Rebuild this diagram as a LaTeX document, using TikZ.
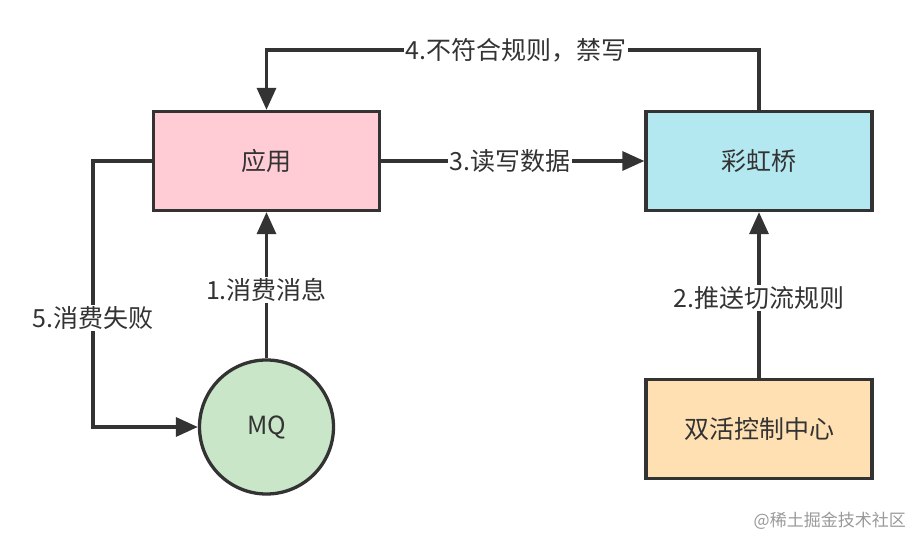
\documentclass[tikz,border=0pt]{standalone}
\usepackage{fontspec}
\setmainfont{Noto Sans CJK SC}
\usetikzlibrary{arrows.meta}
\definecolor{edge}{HTML}{333333}
\definecolor{appfill}{HTML}{FFCCD5}
\definecolor{bridgefill}{HTML}{B3E8F0}
\definecolor{mqfill}{HTML}{C9E6C9}
\definecolor{ctrlfill}{HTML}{FFE0B3}
\begin{document}
\begin{tikzpicture}[x=1pt,y=-1pt,
  txt/.style={font=\fontsize{25}{29}\selectfont,text=edge},
  boxnode/.style={draw=edge,line width=3.3pt,minimum width=226pt,minimum height=99pt,inner sep=0pt,txt},
  conn/.style={draw=edge,line width=3.3pt,-{Triangle[length=22pt,width=19pt]}},
  lbl/.style={fill=white,inner sep=1.5pt,txt}]
\useasboundingbox (0,0) rectangle (923,548);
\node[boxnode,fill=appfill] (app) at (266.5,161) {应用};
\node[boxnode,fill=bridgefill] (bridge) at (759,161) {彩虹桥};
\node[boxnode,fill=ctrlfill] (ctrl) at (759,429) {双活控制中心};
\node[draw=edge,line width=3.3pt,circle,fill=mqfill,minimum size=134pt,inner sep=0pt,txt] (mq) at (266.5,427) {MQ};
\coordinate (tl) at (266.5,50);
\coordinate (tr) at (759,50);
\coordinate (ll) at (93,161);
\coordinate (lb) at (93,427);
\draw[conn] (bridge.north) -- (tr) -- (tl) -- (app.north);
\node[lbl] (l4) at (516,50) {4.不符合规则，禁写};
\draw[conn] (app.east) -- (bridge.west) node[lbl,pos=0.49] (l3) {3.读写数据};
\draw[conn] (mq.north) -- (app.south) node[lbl,pos=0.47] (l1) {1.消费消息};
\draw[conn] (ctrl.north) -- (bridge.south) node[lbl,pos=0.48] (l2) {2.推送切流规则};
\draw[conn] (app.west) -- (ll) -- (lb) -- (mq.west);
\node[lbl] (l5) at (93,318) {5.消费失败};
\node[text=black!40,font=\fontsize{17}{20}\selectfont,anchor=east,inner sep=0pt] (wm) at (906,521) {@稀土掘金技术社区};
\end{tikzpicture}
\end{document}
